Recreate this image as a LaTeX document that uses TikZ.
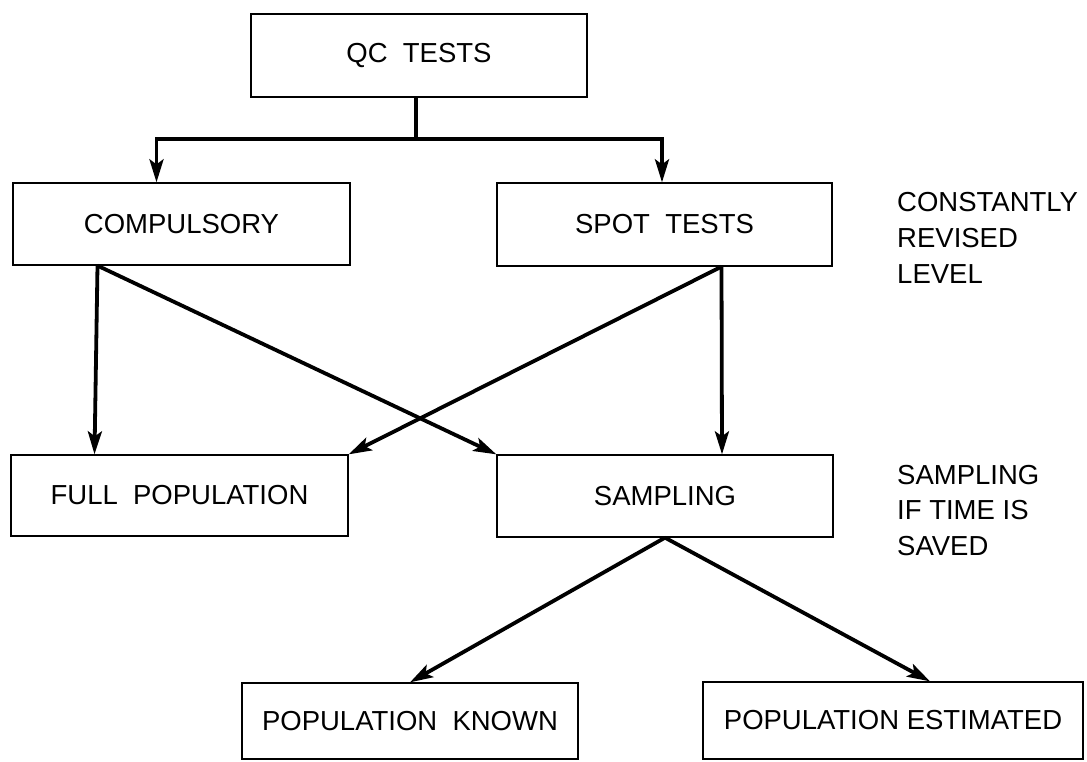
\documentclass[tikz,border=0pt]{standalone}
\usepackage{fontspec}
\setmainfont{Liberation Sans}
\usetikzlibrary{arrows.meta}
\begin{document}
\begin{tikzpicture}[x=1pt,y=-1pt,
  box/.style={draw, line width=1.3pt, inner sep=0pt, font=\fontsize{27.5}{32}\selectfont},
  link/.style={line width=3.8pt},
  arr/.style={line width=3.8pt, -{Stealth[length=23pt,width=14pt,inset=5pt]}},
  note/.style={anchor=base west, align=left, inner sep=0pt, font=\fontsize{27.5}{35.5}\selectfont}]
\useasboundingbox (0,0) rectangle (1087,762);

% boxes
\node[box, minimum width=336pt, minimum height=83pt] (qc)    at (419,55.5)  {QC\ \ TESTS};
\node[box, minimum width=337pt, minimum height=82pt] (comp)  at (181.5,224) {COMPULSORY};
\node[box, minimum width=335pt, minimum height=83pt] (spot)  at (664.5,224.5) {SPOT\ \ TESTS};
\node[box, minimum width=337pt, minimum height=81pt] (full)  at (179.5,495.5) {FULL\ \ POPULATION};
\node[box, minimum width=336pt, minimum height=82pt] (samp)  at (665,496) {SAMPLING};
\node[box, minimum width=336pt, minimum height=76pt] (known) at (410,721) {POPULATION\ \ KNOWN};
\node[box, minimum width=380pt, minimum height=77pt] (est)   at (893,720.5) {POPULATION ESTIMATED};

% side notes (the base anchor sits on the last line)
\node[note] (revised) at (897,283) {CONSTANTLY\\REVISED\\LEVEL};
\node[note] (saved)   at (897,555) {SAMPLING\\IF TIME IS\\SAVED};

% QC tests split into the two kinds of test
\coordinate (split) at (416,139);
\draw[link] (qc.south -| split) -- (split);
\draw[arr] (split) -| ([xshift=-25pt]comp.north);
\draw[arr] (split) -| ([xshift=-2.5pt]spot.north);

% compulsory tests
\coordinate (compout) at ([xshift=-84pt]comp.south);
\draw[arr] (compout) -- ([xshift=-85pt]full.north);
\draw[arr] (compout) -- (samp.north west);

% spot tests
\coordinate (spotout) at ([xshift=57pt]spot.south);
\draw[arr] (spotout) -- ([xshift=57pt]samp.north);
\draw[arr] (spotout) -- (full.north east);

% sampling outcomes
\draw[arr] (samp.south) -- (known.north);
\draw[arr] (samp.south) -- ([xshift=37pt]est.north);
\end{tikzpicture}
\end{document}
